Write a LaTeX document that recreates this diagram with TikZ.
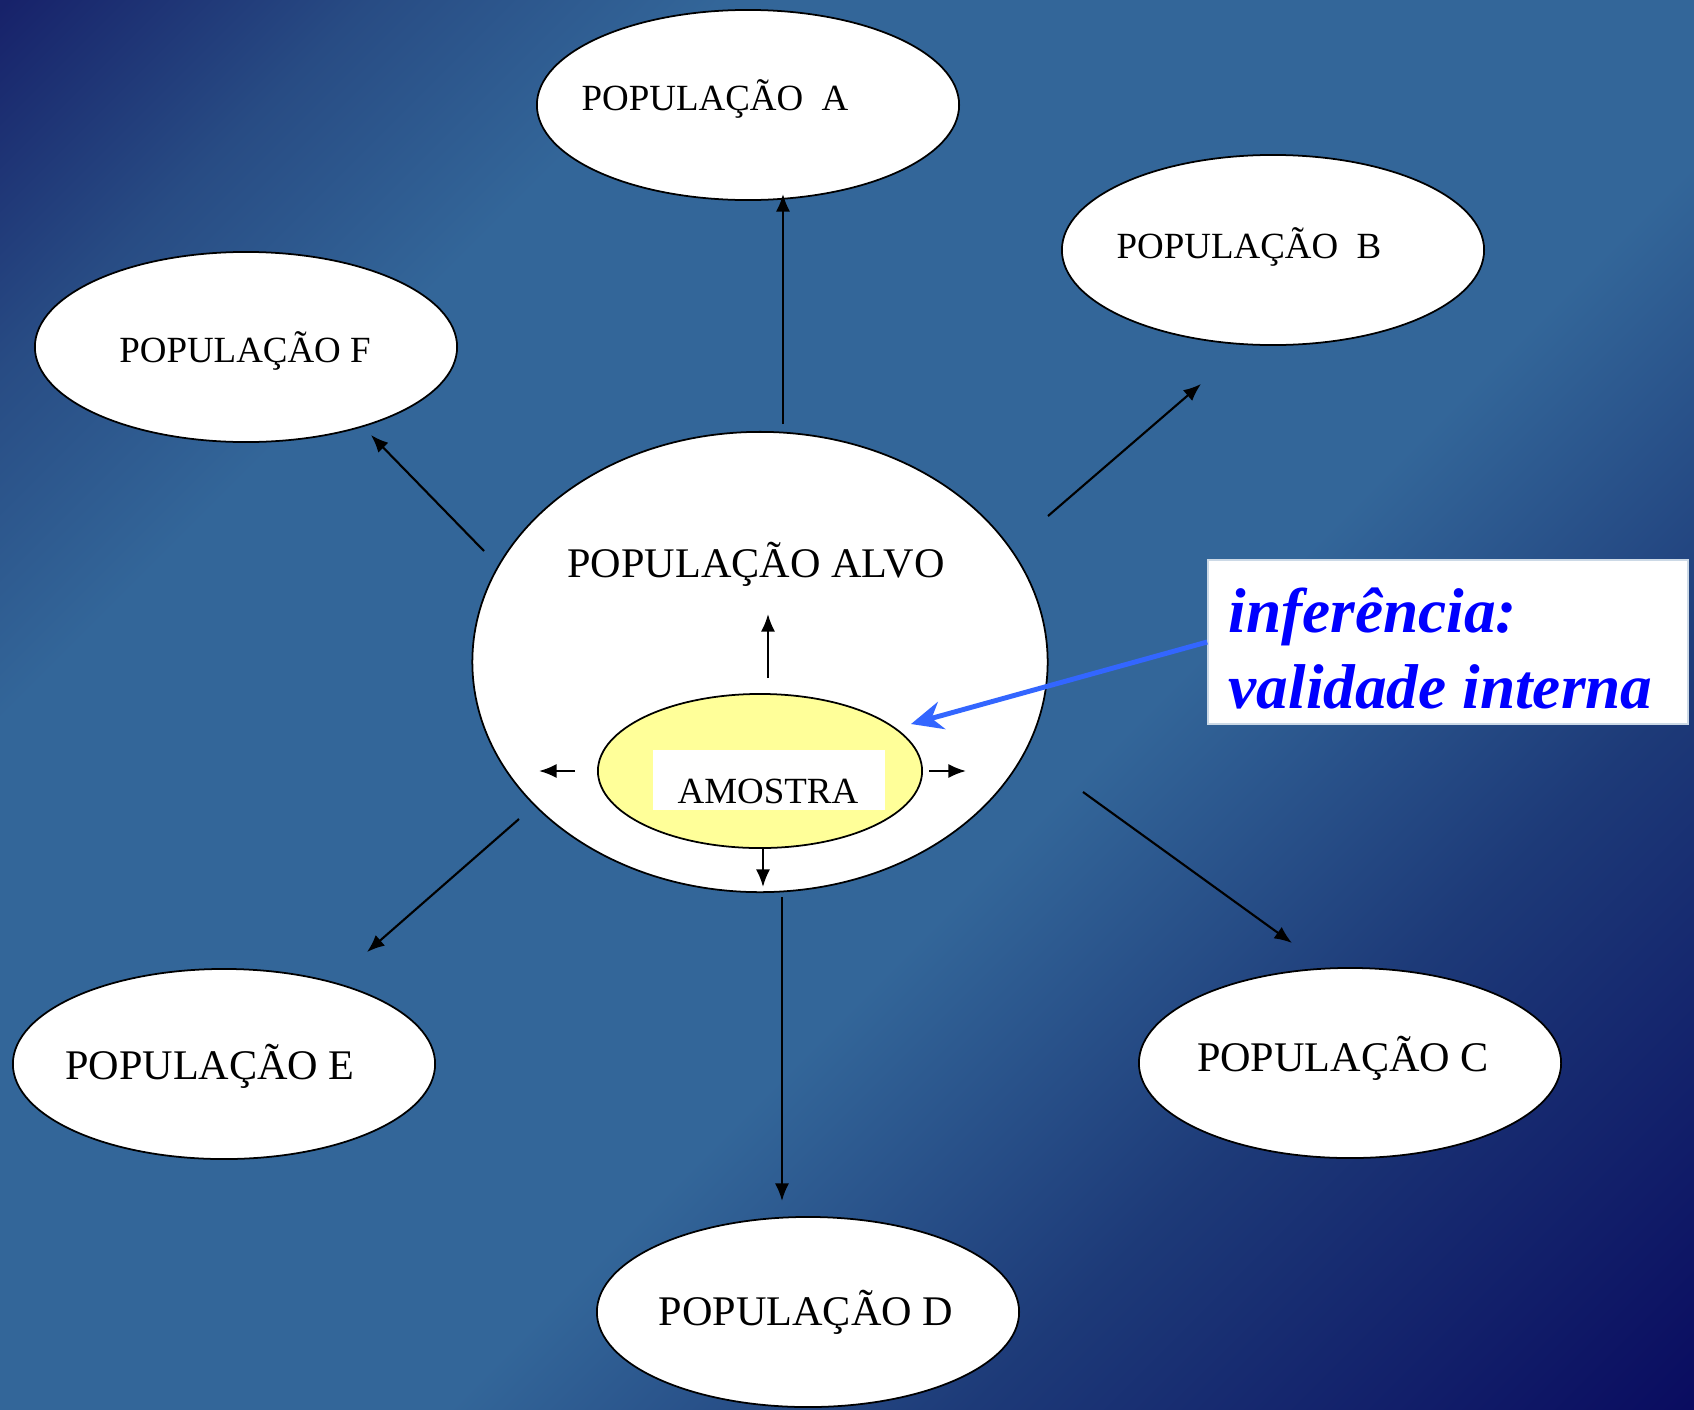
\documentclass[tikz,border=0pt]{standalone}
\usepackage{fontspec}
\setmainfont{Liberation Serif}
\usetikzlibrary{shapes.geometric,arrows.meta}
\definecolor{bgdark}{HTML}{17226A}
\definecolor{bgtl}{HTML}{284C84}
\definecolor{bgmid}{HTML}{336699}
\definecolor{bgbr}{HTML}{1D3A78}
\definecolor{bgdeep}{HTML}{0A0C60}
\definecolor{amarelo}{HTML}{FFFF99}
\definecolor{azul}{HTML}{0000FF}
\definecolor{azulseta}{HTML}{3366FF}
\pgfdeclareverticalshading{fundo}{100bp}{color(0bp)=(bgdeep); color(14.6bp)=(bgdeep); color(31bp)=(bgbr); color(43bp)=(bgmid); color(69bp)=(bgmid); color(77bp)=(bgtl); color(85.4bp)=(bgdark); color(100bp)=(bgdark)}

\begin{document}
\begin{tikzpicture}[x=0.01cm, y=-0.01cm]
\tikzstyle{pop} = [ellipse, draw, fill=white, line width=0.5pt, inner sep=0pt, minimum width=4.22cm, minimum height=1.9cm]
\tikzstyle{popnome} = [anchor=base, inner sep=0pt, font=\fontsize{10.5}{12}\selectfont]
\tikzstyle{popgrande} = [popnome, font=\fontsize{12}{14}\selectfont]
\tikzstyle{infnome} = [anchor=base west, inner sep=0pt, text=azul, font=\fontsize{18}{21.6}\selectfont\bfseries\itshape]
\tikzset{seta/.style={-{Latex[length=5pt,width=4pt]}, line width=0.6pt}, setaazul/.style={-{Stealth[length=9pt,width=8pt]}, line width=1.4pt, azulseta}}

\useasboundingbox (0,0) rectangle (1694,1409);
\shade[shading=fundo, shading angle=45] (0,0) rectangle (1694,1409);

\node[pop] (popA) at (748,105) {};
\node[pop] (popB) at (1273,250) {};
\node[pop] (popF) at (246,347) {};
\node[pop] (popE) at (224,1064) {};
\node[pop] (popC) at (1350,1063) {};
\node[pop] (popD) at (808,1312) {};
\node[pop, minimum width=5.75cm, minimum height=4.6cm] (alvo) at (760,662) {};
\node[pop, fill=amarelo, minimum width=3.24cm, minimum height=1.54cm] (amostra) at (760,771) {};
\node[fill=white, inner sep=0pt, minimum width=2.32cm, minimum height=0.59cm] (rotulo) at (769,780) {};

\node[popnome] (txtA) at (715,110) {POPULAÇÃO\ \ A};
\node[popnome] (txtB) at (1249,258) {POPULAÇÃO\ \ B};
\node[popnome] (txtF) at (245,362) {POPULAÇÃO F};
\node[popgrande] (txtE) at (210,1079) {POPULAÇÃO E};
\node[popgrande] (txtC) at (1343,1071) {POPULAÇÃO C};
\node[popgrande] (txtD) at (806,1325) {POPULAÇÃO D};
\node[popgrande] (txtAlvo) at (756,577) {POPULAÇÃO ALVO};
\node[popnome] (txtAmostra) at (768,803) {AMOSTRA};

\coordinate (sA0) at (783,424); \coordinate (sA1) at (783,194);
\coordinate (sB0) at (1048,516); \coordinate (sB1) at (1201,384);
\coordinate (sF0) at (484,551); \coordinate (sF1) at (371,435);
\coordinate (sE0) at (519,819); \coordinate (sE1) at (367,952);
\coordinate (sD0) at (782,897); \coordinate (sD1) at (782,1201);
\coordinate (sC0) at (1083,792); \coordinate (sC1) at (1292,943);
\coordinate (cima0) at (768,678); \coordinate (cima1) at (768,614);
\coordinate (esq0) at (575,771); \coordinate (esq1) at (539,771);
\coordinate (dir0) at (929,771); \coordinate (dir1) at (966,771);
\coordinate (baixo0) at (763,849); \coordinate (baixo1) at (763,887);

\foreach \a/\b in {sA0/sA1, sB0/sB1, sF0/sF1, sE0/sE1, sD0/sD1, sC0/sC1, cima0/cima1, esq0/esq1, dir0/dir1, baixo0/baixo1}
  \draw[seta] (\a) -- (\b);

\node[fill=white, draw=white!75!bgmid, line width=0.4pt, inner sep=0pt, minimum width=4.8cm, minimum height=1.64cm] (inf) at (1448,642) {};
\node[infnome] (inf1) at (1228,632) {inferência:};
\node[infnome] (inf2) at (1228,708) {validade interna};
\coordinate (pontaAzul) at (911,724);
\draw[setaazul] (inf.west) -- (pontaAzul);

\end{tikzpicture}
\end{document}
